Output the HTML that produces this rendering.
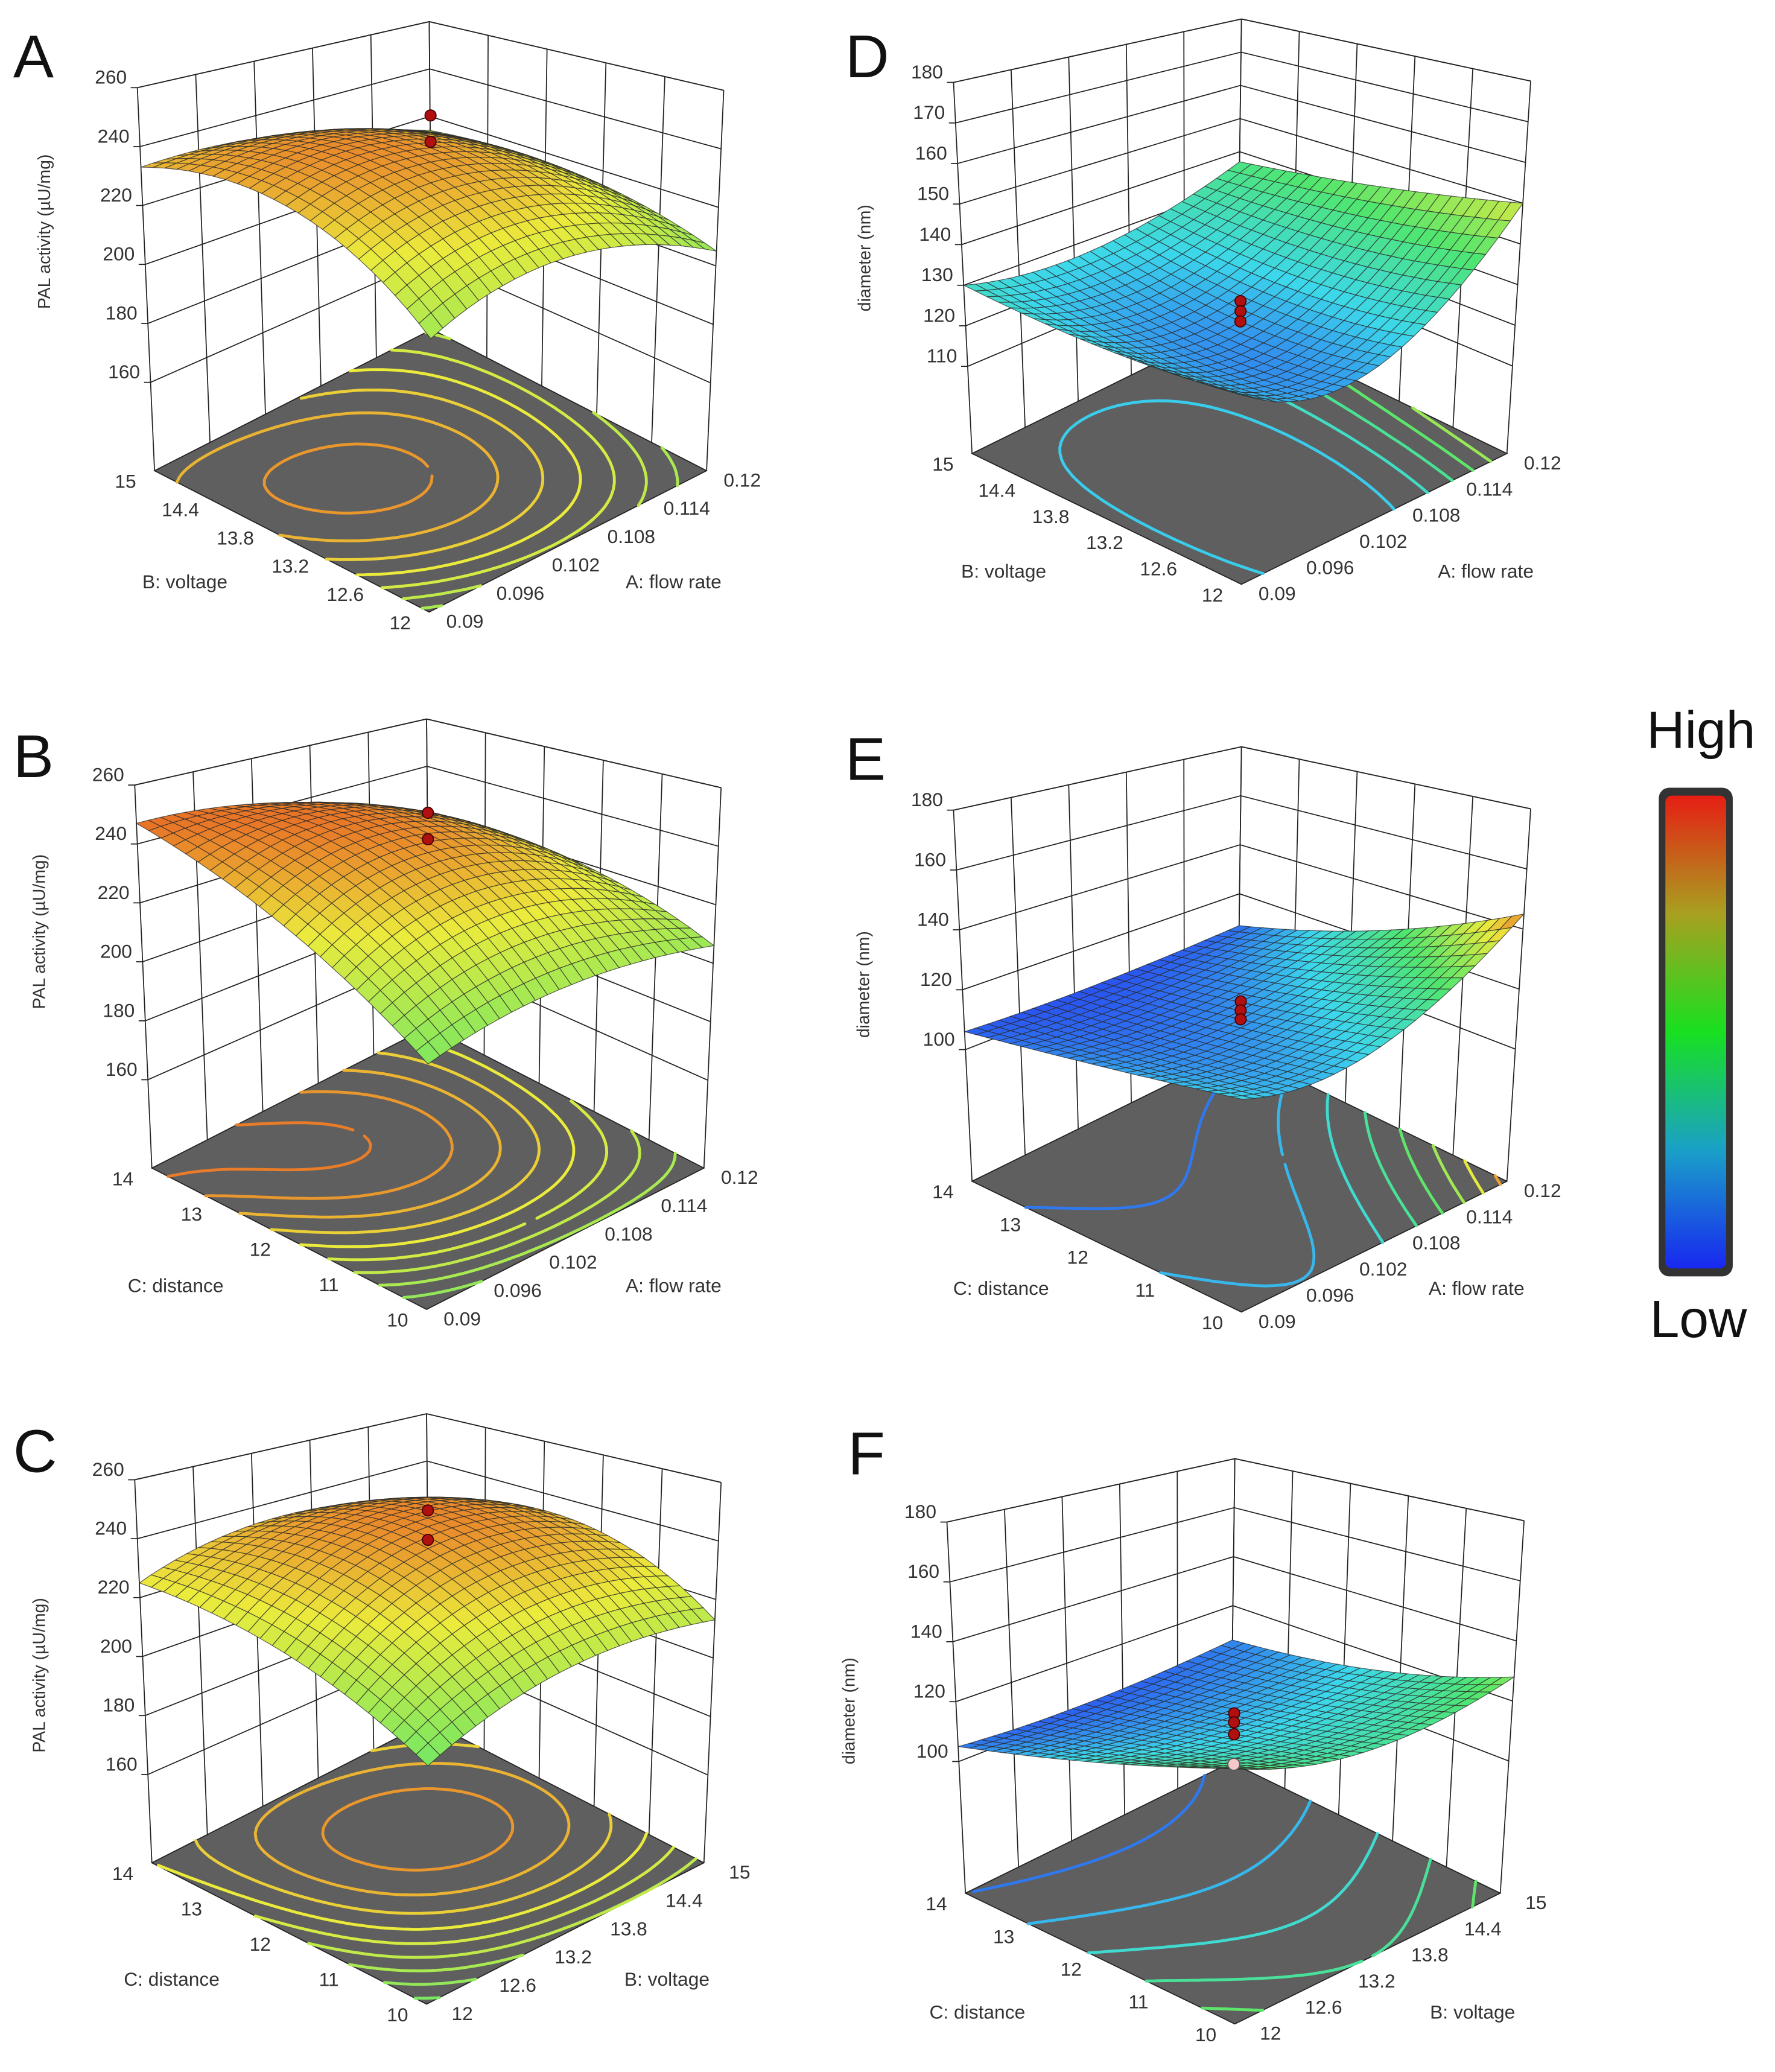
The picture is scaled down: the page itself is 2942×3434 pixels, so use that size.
<!DOCTYPE html>
<html><head><meta charset="utf-8"><style>
html,body{margin:0;padding:0;background:#fff}
svg{display:block}
text{font-family:"Liberation Sans",sans-serif}
</style></head><body>
<svg id="fig" xmlns="http://www.w3.org/2000/svg" width="2942" height="3434" viewBox="0 0 1344 1568">
<defs>
<linearGradient id="cbar" x1="0" y1="0" x2="0" y2="1">
<stop offset="0" stop-color="#e61e14"/><stop offset="0.25" stop-color="#a8a020"/><stop offset="0.5" stop-color="#18e020"/><stop offset="0.75" stop-color="#1aa0c8"/><stop offset="1" stop-color="#1828f0"/>
</linearGradient>
</defs>
<g id="panels"></g>
<g>
<rect x="1256" y="596" width="56" height="370" rx="8" fill="#333"/>
<rect x="1261" y="602" width="46" height="358" rx="5" fill="url(#cbar)"/>
<text x="1288" y="566" font-size="40" text-anchor="middle" fill="#111">High</text>
<text x="1286" y="1012" font-size="40" text-anchor="middle" fill="#111">Low</text>
</g>
</svg>
<script>
// ---- data (surface values at 3x3 grid: rows = left-axis factor low/mid/high, cols = right-axis factor low/mid/high)
const surfA = [[208,219,205],[234,240,216],[233,230,214]];
const surfB = [[200,209,206],[227,241,220],[247,241,221]];
const surfC = [[198,213,213],[217,241,233],[225,234,223]];
const surfD = [[128,123,150],[127,121,143],[130,127,137]];
const surfE = [[116,117,145],[111,110,124],[106,105,107]];
const surfF = [[128,120,128],[116,111,114],[105,103,106]];
const pointsA = [251,242];
const pointsB = [251,242];
const pointsC = [250,240];
const pointsD = [126,123.5,121];
const pointsE = [116,113,110];
const pointsF = [116,113,109];
const pointsFLow = [99];
const zTicksPAL = [160,180,200,220,240,260];
const zTicksD = [110,120,130,140,150,160,170,180];
const zTicksEF = [100,120,140,160,180];
const ticksFlow = ["0.09","0.096","0.102","0.108","0.114","0.12"];
const ticksVoltage = ["12","12.6","13.2","13.8","14.4","15"];
const ticksDistance = ["10","11","12","13","14"];

const NS="http://www.w3.org/2000/svg";
function mk(tag,attrs,parent){const e=document.createElementNS(NS,tag);for(const k in attrs)e.setAttribute(k,attrs[k]);parent.appendChild(e);return e;}
function add(v,d){return [v[0]+d[0],v[1]+d[1]];}
const geoA={F:[325,463],L:[117,356],R:[535,356],Lt:[104,66],Rt:[548,68],Bt:[325,16]};
const geoD={F:[940,442],L:[736,343],R:[1141,343],Lt:[722,62],Rt:[1159,61],Bt:[940,14]};
function shift(g,d){const o={};for(const k in g)o[k]=add(g[k],d);return o;}
function cmap(t){
  t=Math.max(0,Math.min(1,t));
  const st=[[0,[40,70,240]],[0.25,[60,215,235]],[0.5,[80,230,110]],[0.75,[235,235,60]],[1,[230,40,25]]];
  for(let i=0;i<st.length-1;i++){if(t<=st[i+1][0]){const u=(t-st[i][0])/(st[i+1][0]-st[i][0]);const c=st[i][1].map((v,j)=>Math.round(v+u*(st[i+1][1][j]-v)));return `rgb(${c[0]},${c[1]},${c[2]})`;}}
  return 'rgb(230,40,25)';
}
function lag(t){return [2*(t-.5)*(t-1),-4*t*(t-1),2*t*(t-.5)];}
const panels=[
 {id:'A',geo:geoA,zLo:130,zHi:260,surf:surfA,pts:pointsA,low:[],zt:zTicksPAL,lt:ticksVoltage,rt:ticksFlow,ltitle:'B: voltage',rtitle:'A: flow rate',ztitle:'PAL activity (µU/mg)',cl:120,ch:260,c0:180,cs:5,lab:[10,58],zt_pos:[38,175],lt_pos:[140,445],rt_pos:[510,445]},
 {id:'B',geo:shift(geoA,[-2,528]),zLo:130,zHi:260,surf:surfB,pts:pointsB,low:[],zt:zTicksPAL,lt:ticksDistance,rt:ticksFlow,ltitle:'C: distance',rtitle:'A: flow rate',ztitle:'PAL activity (µU/mg)',cl:120,ch:260,c0:180,cs:5,lab:[10,588],zt_pos:[34,705],lt_pos:[133,978],rt_pos:[510,978]},
 {id:'C',geo:shift(geoA,[-2,1054]),zLo:130,zHi:260,surf:surfC,pts:pointsC,low:[],zt:zTicksPAL,lt:ticksDistance,rt:ticksVoltage,ltitle:'C: distance',rtitle:'B: voltage',ztitle:'PAL activity (µU/mg)',cl:120,ch:260,c0:180,cs:5,lab:[10,1114],zt_pos:[34,1268],lt_pos:[130,1503],rt_pos:[505,1503]},
 {id:'D',geo:geoD,zLo:88.5,zHi:180,surf:surfD,pts:pointsD,low:[],zt:zTicksD,lt:ticksVoltage,rt:ticksFlow,ltitle:'B: voltage',rtitle:'A: flow rate',ztitle:'diameter (nm)',cl:113,ch:165,c0:125,cs:5,lab:[640,58],zt_pos:[659,195],lt_pos:[760,437],rt_pos:[1125,437]},
 {id:'E',geo:shift(geoD,[0,551]),zLo:56,zHi:180,surf:surfE,pts:pointsE,low:[],zt:zTicksEF,lt:ticksDistance,rt:ticksFlow,ltitle:'C: distance',rtitle:'A: flow rate',ztitle:'diameter (nm)',cl:104,ch:150,c0:108,cs:5,lab:[640,590],zt_pos:[658,745],lt_pos:[758,980],rt_pos:[1118,980]},
 {id:'F',geo:shift(geoD,[-5,1090]),zLo:56,zHi:180,surf:surfF,pts:pointsF,low:pointsFLow,zt:zTicksEF,lt:ticksDistance,rt:ticksVoltage,ltitle:'C: distance',rtitle:'B: voltage',ztitle:'diameter (nm)',cl:101,ch:147,c0:105,cs:5,lab:[642,1116],zt_pos:[647,1295],lt_pos:[740,1528],rt_pos:[1115,1528]}
];
const root=document.getElementById('panels');
panels.forEach(p=>{
  const g=p.geo; const Ft=[g.Lt[0]+g.Rt[0]-g.Bt[0],g.Lt[1]+g.Rt[1]-g.Bt[1]];
  function P(a,b,z){
    const fx=g.F[0]+a*(g.R[0]-g.F[0])+b*(g.L[0]-g.F[0]), fy=g.F[1]+a*(g.R[1]-g.F[1])+b*(g.L[1]-g.F[1]);
    const tx=Ft[0]+a*(g.Rt[0]-Ft[0])+b*(g.Lt[0]-Ft[0]), ty=Ft[1]+a*(g.Rt[1]-Ft[1])+b*(g.Lt[1]-Ft[1]);
    const w=(z-p.zLo)/(p.zHi-p.zLo); return [fx+w*(tx-fx),fy+w*(ty-fy)];
  }
  function Z(a,b){const la=lag(a),lb=lag(b);let s=0;for(let i=0;i<3;i++)for(let j=0;j<3;j++)s+=lb[i]*la[j]*p.surf[i][j];return s;}
  const col=z=>cmap((z-p.cl)/(p.ch-p.cl));
  const pg=mk('g',{},root);
  
  
  const lbl=mk('text',{x:p.lab[0],y:p.lab[1],'font-size':46,fill:'#111'},pg); lbl.textContent=p.id;
  
  
  const wg=mk('g',{stroke:'#222','stroke-width':0.8,fill:'none'},pg);
  
  
  const line=(A,B,par,w)=>mk('line',{x1:A[0].toFixed(1),y1:A[1].toFixed(1),x2:B[0].toFixed(1),y2:B[1].toFixed(1),'stroke-width':w||0.8},par||wg);
  for(let k=0;k<=5;k++){const t=k/5;line(P(t,1,p.zLo),P(t,1,p.zHi));line(P(1,t,p.zLo),P(1,t,p.zHi));}
  p.zt.forEach(z=>{line(P(0,1,z),P(1,1,z));line(P(1,1,z),P(1,0,z));});
  line(P(0,1,p.zHi),P(1,1,p.zHi));line(P(1,1,p.zHi),P(1,0,p.zHi));
  p.zt.forEach(z=>{const q=P(0,1,z);line(q,[q[0]-5,q[1]]);
    const t=mk('text',{x:(q[0]-8).toFixed(1),y:(q[1]-3).toFixed(1),'font-size':14.5,'text-anchor':'end',fill:'#333'},pg);t.textContent=z;
    
    });
  const zt=mk('text',{x:p.zt_pos[0],y:p.zt_pos[1],'font-size':13,'text-anchor':'middle',fill:'#333',transform:`rotate(-90 ${p.zt_pos[0]} ${p.zt_pos[1]})`},pg);zt.textContent=p.ztitle;
  
  
  const fl=[P(0,0,p.zLo),P(1,0,p.zLo),P(1,1,p.zLo),P(0,1,p.zLo)];
  const floor=mk('polygon',{points:fl.map(v=>v.map(n=>n.toFixed(1)).join(',')).join(' '),fill:'#5f5f5f',stroke:'#222','stroke-width':0.8},pg);
  
  
  const cg=mk('g',{fill:'none','stroke-width':2.2,'stroke-linecap':'round'},pg);
  
  
  const N=48;
  let zmax=-1e9;for(let i=0;i<=N;i++)for(let j=0;j<=N;j++){const z=Z(j/N,i/N);zmax=Math.max(zmax,z);}
  for(let lev=p.c0;lev<zmax;lev+=p.cs){
    let d='';
    for(let i=0;i<N;i++)for(let j=0;j<N;j++){
      const c=[[j/N,i/N],[(j+1)/N,i/N],[(j+1)/N,(i+1)/N],[j/N,(i+1)/N]];
      const v=c.map(q=>Z(q[0],q[1])); const pts=[];
      for(let e=0;e<4;e++){const a=e,b=(e+1)%4;if((v[a]-lev)*(v[b]-lev)<0){const u=(lev-v[a])/(v[b]-v[a]);pts.push([c[a][0]+u*(c[b][0]-c[a][0]),c[a][1]+u*(c[b][1]-c[a][1])]);}}
      for(let k=0;k+1<pts.length;k+=2){const s=P(pts[k][0],pts[k][1],p.zLo),t=P(pts[k+1][0],pts[k+1][1],p.zLo);d+=`M${s[0].toFixed(1)},${s[1].toFixed(1)}L${t[0].toFixed(1)},${t[1].toFixed(1)}`;}
    }
    if(d){const cp=mk('path',{d:d,stroke:col(lev)},cg);
      
      }
  }
  const tg=mk('g',{'font-size':14.5,fill:'#333','text-anchor':'middle'},pg);
  p.lt.forEach((s,k)=>{const b=k/(p.lt.length-1);const q=P(0,b,p.zLo);line(q,[q[0]-4,q[1]+2],tg,1.5);
    const t=mk('text',{x:(q[0]-22).toFixed(1),y:(q[1]+13).toFixed(1)},tg);t.textContent=s;
    
    });
  p.rt.forEach((s,k)=>{const a=k/(p.rt.length-1);const q=P(a,0,p.zLo);line(q,[q[0]+4,q[1]+2],tg,1.5);
    const t=mk('text',{x:(q[0]+27).toFixed(1),y:(q[1]+12).toFixed(1)},tg);t.textContent=s;
    
    });
  const lt=mk('text',{x:p.lt_pos[0],y:p.lt_pos[1],'font-size':14.5,'text-anchor':'middle',fill:'#333'},pg);lt.textContent=p.ltitle;
  
  
  const rt=mk('text',{x:p.rt_pos[0],y:p.rt_pos[1],'font-size':14.5,'text-anchor':'middle',fill:'#333'},pg);rt.textContent=p.rtitle;
  
  
  line(P(0,1,p.zLo),P(0,1,p.zHi),pg);line(P(1,0,p.zLo),P(1,0,p.zHi),pg);
  line(P(0,0,p.zLo),P(0,0,Z(0,0)),pg);
  p.low.forEach(z=>{line(P(.5,.5,p.zLo),P(.5,.5,z),pg,1);});
  const sg=mk('g',{stroke:'#2a2a2a','stroke-width':0.55,'stroke-opacity':0.75},pg);
  
  
  const M=24, quads=[];
  for(let i=0;i<M;i++)for(let j=0;j<M;j++)quads.push([j,i]);
  quads.sort((u,v)=>(v[0]+v[1])-(u[0]+u[1]));
  quads.forEach(([j,i])=>{
    const cs=[[j/M,i/M],[(j+1)/M,i/M],[(j+1)/M,(i+1)/M],[j/M,(i+1)/M]];
    const zs=cs.map(c=>Z(c[0],c[1]));
    const pts=cs.map((c,k)=>P(c[0],c[1],zs[k]).map(n=>n.toFixed(1)).join(',')).join(' ');
    const zm=(zs[0]+zs[1]+zs[2]+zs[3])/4;
    const q=mk('polygon',{points:pts,fill:col(zm)},sg);
    
    
  });
  p.low.forEach(z=>{const q=P(.5,.5,z);const c=mk('circle',{cx:q[0].toFixed(1),cy:q[1].toFixed(1),r:4.5,fill:'#f4c8c8',stroke:'#555','stroke-width':0.8},pg);
    
    });
  const top=P(.5,.5,p.pts[0]),bot=P(.5,.5,Z(.5,.5));
  line(top,bot,pg,1);
  p.pts.forEach(z=>{const q=P(.5,.5,z);const c=mk('circle',{cx:q[0].toFixed(1),cy:q[1].toFixed(1),r:4.2,fill:'#b01010',stroke:'#400','stroke-width':0.8},pg);
    
    });
});
</script>
</body></html>
